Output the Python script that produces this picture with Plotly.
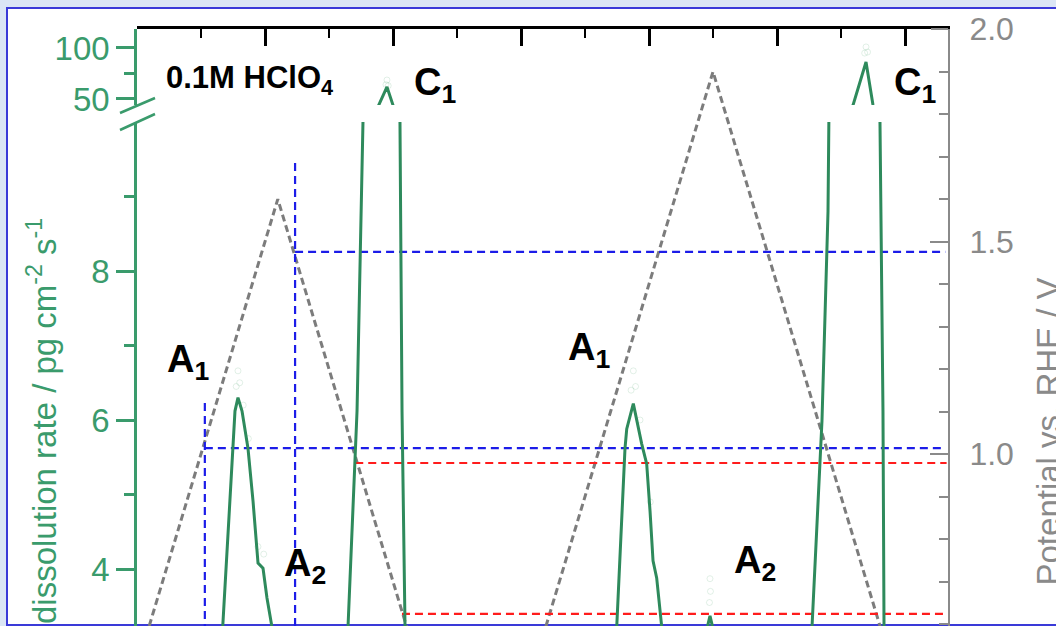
import plotly.graph_objects as go

# ---------------- data ----------------
# potential programme (V vs RHE) vertices over time (s)
pot_t = [-9.0, 22.0, 53.0, 90.0, 127.0]
pot_v = [0.05, 1.60, 0.05, 1.90, 0.05]

# dissolution rate (pg cm-2 s-1), smoothed trace
rate_t = [0.0, 9.8, 12.8, 13.39, 14.38, 14.84, 15.31, 15.78, 16.41, 17.34, 18.13, 18.91,
          19.69, 20.31, 21.09, 21.7, 23.1, 30.0,
          32.97, 34.38, 35.0, 35.31, 37.81, 39.06, 40.0, 41.09, 41.2, 41.41, 41.88, 42.66, 44.2,
          72.0, 74.3, 74.95, 75.73, 76.25, 76.52, 77.55, 78.86, 79.64, 80.16, 80.63, 81.2, 81.98,
          82.8, 84.5, 87.0,
          89.06, 89.53, 90.0, 90.3,
          100.0, 103.5, 105.47, 107.03, 107.97, 108.28, 111.88, 113.91, 115.0, 116.09, 116.25,
          116.56, 116.72, 117.3, 119.2, 127.0]
rate_v = [0.3, 0.3, 2.0, 3.22, 4.71, 5.42, 6.12, 6.30, 6.12, 5.62, 4.91, 4.08,
          4.01, 3.61, 3.22, 2.5, 1.0, 0.4,
          3.22, 6.12, 8.67, 10.0, 44.0, 61.8, 44.0, 10.0, 8.67, 6.12, 3.22, 1.5, 0.4,
          0.4, 2.0, 3.26, 4.78, 5.62, 5.88, 6.22, 5.68, 5.41, 4.78, 4.11, 3.88, 3.23,
          2.3, 1.2, 0.8,
          3.2, 3.37, 3.2, 1.0,
          0.6, 0.5, 3.22, 5.99, 8.80, 10.0, 44.0, 86.3, 44.0, 10.0, 8.80,
          6.12, 3.22, 1.0, 0.3, 0.3]

# raw (unsmoothed) points visible faintly around the peaks
raw_t = [15.5, 15.78, 16.05, 16.6, 17.4, 18.9, 19.8,
         77.2, 77.55, 77.9, 78.6, 80.2,
         38.9, 39.06, 39.25,
         113.7, 113.91, 114.15,
         89.45, 89.53, 89.6]
raw_v = [6.45, 6.66, 6.5, 6.2, 5.75, 4.3, 4.2,
         6.4, 6.66, 6.45, 6.0, 4.9,
         64.0, 68.6, 63.0,
         95.0, 101.0, 96.0,
         3.55, 3.87, 3.7]

# guide lines (potential levels, V) and their time spans (s)
hline_v = [1.014, 1.476, 0.979, 0.624]
hline_t0 = [10.6, 24.7, 34.1, 41.4]
hline_t1 = [125.6, 126.3, 126.5, 126.5]
hline_kind = ["blue", "blue", "red", "red"]
vline_t = [10.6, 24.7]
vline_top = [1.12, 1.685]
vline_bottom = [0.40, 0.40]

left_lower_ticks = [4, 6, 8]
left_lower_minor = [5, 7, 9]
left_upper_ticks = [50, 100]
left_upper_minor = [75]

# ---------------- layout helpers ----------------
W, H = 1056, 626
L, R, T, B = 137, 108, 29, 0
PW, PH = W - L - R, H - T - B


def px(x):
    return (x - L) / PW


def py(y):
    return (H - B - y) / PH


FONT = "Arial, Liberation Sans, sans-serif"
GREEN = "#2e8a5c"
GREEN_T = "#3a9b6c"
GRAY = "#8a8a8a"
BLUE = "#1c1ce8"
RED = "#ff1c1c"

fig = go.Figure()

# potential (right axis, full height) -> subplot xy (drawn first, below)
fig.add_trace(go.Scatter(x=pot_t, y=pot_v, mode="lines", xaxis="x", yaxis="y",
                         line=dict(color="#7c7c7c", width=3, dash="7px,4px"),
                         hoverinfo="skip", showlegend=False))
for v, t0, t1, k in zip(hline_v, hline_t0, hline_t1, hline_kind):
    fig.add_trace(go.Scatter(x=[t0, t1], y=[v, v], mode="lines", xaxis="x", yaxis="y",
                             line=dict(color=BLUE if k == "blue" else RED, width=2.2,
                                       dash="8px,5px"),
                             hoverinfo="skip", showlegend=False))
for t, top, bot in zip(vline_t, vline_top, vline_bottom):
    fig.add_trace(go.Scatter(x=[t, t], y=[top, bot], mode="lines", xaxis="x", yaxis="y",
                             line=dict(color=BLUE, width=2.2, dash="8px,5px"),
                             hoverinfo="skip", showlegend=False))

# dissolution rate on the broken left axis (lower y2, upper y3)
for ya in ["y2", "y3"]:
    fig.add_trace(go.Scatter(x=raw_t, y=raw_v, mode="markers", xaxis="x", yaxis=ya,
                             marker=dict(symbol="circle-open", size=6,
                                         color="rgba(140,195,160,0.25)",
                                         line=dict(width=1)),
                             hoverinfo="skip", showlegend=False))
    fig.add_trace(go.Scatter(x=rate_t, y=rate_v, mode="lines", xaxis="x", yaxis=ya,
                             line=dict(color=GREEN, width=3),
                             hoverinfo="skip", showlegend=False))

tickfont_g = dict(family=FONT, size=33, color=GREEN_T)

fig.update_layout(
    width=W, height=H, autosize=False,
    margin=dict(l=L, r=R, t=T, b=B, pad=0, autoexpand=False),
    paper_bgcolor="#dbe6f5",
    plot_bgcolor="rgba(0,0,0,0)",
    showlegend=False,
    xaxis=dict(domain=[0, 1], range=[0, (948 - 137) / 6.4], side="top", anchor="y",
               automargin=False,
               showline=True, linecolor="black", linewidth=2.5, mirror=False,
               ticks="inside", ticklen=17, tickwidth=2.5, tickcolor="black",
               tick0=0, dtick=20, showticklabels=False, showgrid=False, zeroline=False,
               minor=dict(ticks="inside", ticklen=9, tickwidth=2, tickcolor="black",
                          dtick=10, tick0=0, showgrid=False)),
    yaxis=dict(domain=[0, 1], range=[2.0 - 597 / 425, 2.0005], side="right", anchor="x",
               automargin=False,
               showline=True, linecolor=GRAY, linewidth=2, showgrid=False, zeroline=False,
               ticks="inside", ticklen=18, tickwidth=2, tickcolor=GRAY,
               tick0=0, dtick=0.5, tickformat=".1f",
               tickfont=dict(family=FONT, size=32, color=GRAY), ticklabelstandoff=13,
               minor=dict(ticks="inside", ticklen=9, tickwidth=2, tickcolor=GRAY,
                          dtick=0.1, tick0=0, showgrid=False)),
    yaxis2=dict(domain=[0, (626 - 122) / PH], range=[3.235, 10.0], side="left", anchor="x",
                automargin=False,
                showline=True, linecolor=GREEN_T, linewidth=2.5, showgrid=False,
                zeroline=False, ticks="outside", ticklen=18, tickwidth=2.5,
                tickcolor=GREEN_T, tickvals=left_lower_ticks, tickfont=tickfont_g,
                ticklabelstandoff=0,
                minor=dict(ticks="outside", ticklen=10, tickwidth=2.5, tickcolor=GREEN_T,
                           tickvals=left_lower_minor, showgrid=False)),
    yaxis3=dict(domain=[(626 - 105) / PH, 1.0], range=[44.1, 118.6], side="left",
                anchor="x", automargin=False,
                showline=True, linecolor=GREEN_T, linewidth=2.5,
                showgrid=False, zeroline=False, ticks="outside", ticklen=18,
                tickwidth=2.5, tickcolor=GREEN_T, tickvals=left_upper_ticks,
                tickfont=tickfont_g, ticklabelstandoff=0,
                minor=dict(ticks="outside", ticklen=10, tickwidth=2.5, tickcolor=GREEN_T,
                           tickvals=left_upper_minor, showgrid=False)),
)

shapes = [
    # white panel with blue frame
    dict(type="rect", xref="paper", yref="paper", x0=px(7), x1=px(1070), y0=py(625),
         y1=py(8), fillcolor="white", line=dict(color="#3a3ad8", width=2), layer="below"),
    # grey end of the top frame line
    dict(type="line", xref="paper", yref="paper", x0=px(931), x1=px(948), y0=py(29),
         y1=py(29), line=dict(color=GRAY, width=2)),
    # axis break marks
    dict(type="line", xref="paper", yref="paper", x0=px(120), x1=px(155), y0=py(113),
         y1=py(98), line=dict(color=GREEN_T, width=2.5)),
    dict(type="line", xref="paper", yref="paper", x0=px(120), x1=px(155), y0=py(130),
         y1=py(114), line=dict(color=GREEN_T, width=2.5)),
]
fig.update_layout(shapes=shapes)

ann = []
bold_labels = [
    ("<b>0.1M HClO<sub>4</sub></b>", 164, 80, 31),
    ("<b>C<sub>1</sub></b>", 412, 85, 38),
    ("<b>C<sub>1</sub></b>", 892, 85, 38),
    ("<b>A<sub>1</sub></b>", 165, 362, 38),
    ("<b>A<sub>1</sub></b>", 566, 350, 38),
    ("<b>A<sub>2</sub></b>", 282, 566, 38),
    ("<b>A<sub>2</sub></b>", 732, 563, 38),
]
for txt, x, y, s in bold_labels:
    ann.append(dict(text=txt, xref="paper", yref="paper", x=px(x), y=py(y),
                    xanchor="left", yanchor="middle", showarrow=False,
                    font=dict(family=FONT, size=s, color="black")))
ann.append(dict(text="dissolution rate / pg cm<sup>-2</sup> s<sup>-1</sup>", xref="paper",
                yref="paper", x=px(19), y=py(216), xanchor="left", yanchor="top",
                textangle=-90, showarrow=False,
                font=dict(family=FONT, size=33, color=GREEN_T)))
ann.append(dict(text="Potential vs. RHE / V", xref="paper", yref="paper", x=px(1027),
                y=py(276), xanchor="left", yanchor="top", textangle=-90, showarrow=False,
                font=dict(family=FONT, size=33, color=GRAY)))
fig.update_layout(annotations=ann)

fig.write_html("out.html")
